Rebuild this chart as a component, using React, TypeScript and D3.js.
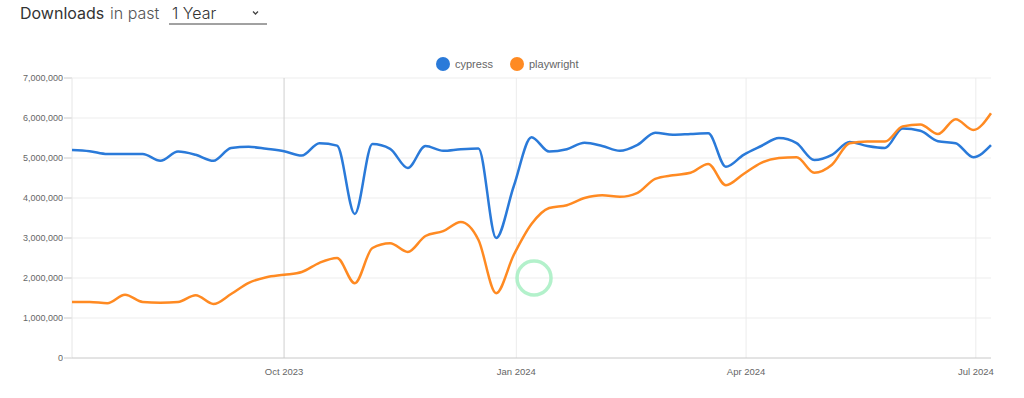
import { scaleTime, scaleLinear, line, curveMonotoneX, timeWeek, format } from "d3";

// weekly downloads, millions — first week starts 2023-07-09
const START = new Date(2023, 6, 9);
const cypress = [
    5.2, 5.17, 5.1, 5.1, 5.1, 4.93, 5.16, 5.08, 4.93, 5.25,
    5.28, 5.23, 5.17, 5.06, 5.37, 5.31, 3.6, 5.35, 5.23, 4.75,
    5.3, 5.18, 5.22, 5.24, 3.0, 4.3, 5.52, 5.16, 5.22, 5.38,
    5.3, 5.18, 5.33, 5.63, 5.58, 5.6, 5.62, 4.78, 5.08, 5.3,
    5.5, 5.37, 4.95, 5.08, 5.4, 5.3, 5.25, 5.74, 5.68, 5.42,
    5.37, 5.02, 5.32,
];
const playwright = [
    1.4, 1.4, 1.37, 1.58, 1.4, 1.38, 1.4, 1.57, 1.35, 1.6,
    1.88, 2.02, 2.08, 2.15, 2.38, 2.5, 1.87, 2.75, 2.87, 2.65,
    3.05, 3.17, 3.4, 2.95, 1.62, 2.58, 3.35, 3.75, 3.82, 4.0,
    4.07, 4.03, 4.13, 4.48, 4.57, 4.63, 4.85, 4.32, 4.6, 4.88,
    5.0, 5.02, 4.63, 4.83, 5.37, 5.41, 5.41, 5.79, 5.84, 5.6,
    5.97, 5.7, 6.12,
];
const seriesNames = ["cypress", "playwright"];
const seriesColors = ["#2a7ad9", "#ff8a22"];
const yTicks = [0, 1e6, 2e6, 3e6, 4e6, 5e6, 6e6, 7e6];
const xTickDates = [
    new Date(2023, 9, 1),
    new Date(2024, 0, 1),
    new Date(2024, 3, 1),
    new Date(2024, 6, 1),
];
const xTickLabels = ["Oct 2023", "Jan 2024", "Apr 2024", "Jul 2024"];

const W = 1024;
const H = 398;
const left = 72;
const right = 991;
const top = 78;
const bottom = 358;

export default function App() {
    const weeks = timeWeek.range(START, new Date(2024, 6, 8));
    const x = scaleTime()
        .domain([weeks[0], weeks[weeks.length - 1]])
        .range([left, right]);
    const y = scaleLinear().domain([0, 7e6]).range([bottom, top]);
    const fmt = format(",");

    const mkLine = line<number>()
        .x((_, i) => x(weeks[i]))
        .y((d) => y(d * 1e6))
        .curve(curveMonotoneX);

    const axisFont = "'Liberation Sans', Arial, sans-serif";
    const headFont = "Inter, sans-serif";

    return (
        <div style={{ position: "absolute", left: 0, top: 0 }}>
            <svg width={W} height={H} style={{ display: "block", background: "#fff" }}>
                {/* header */}
                <text x={20} y={19} fontFamily={headFont} fontSize={16} fill="#333" fontWeight={400}>
                    Downloads
                </text>
                <text x={110} y={19} fontFamily={headFont} fontSize={16} fill="#555" fontWeight={300}>
                    in past
                </text>
                <text x={172} y={19} fontFamily={headFont} fontSize={16} fill="#333" fontWeight={300}>
                    1 Year
                </text>
                <path d="M253,11.5 l2.5,2.5 l2.5,-2.5" fill="none" stroke="#444" strokeWidth={1.3} />
                <line x1={169} x2={267} y1={24} y2={24} stroke="#444" strokeWidth={1} />

                {/* legend */}
                {seriesNames.map((name, i) => {
                    const cx = i === 0 ? 443 : 517;
                    return (
                        <g key={name}>
                            <circle cx={cx} cy={64} r={7} fill={seriesColors[i]} />
                            <text x={cx + 12} y={68} fontFamily={axisFont} fontSize={11} fill="#666">
                                {name}
                            </text>
                        </g>
                    );
                })}

                {/* grid */}
                {yTicks.map((t) => (
                    <g key={t}>
                        {t > 0 && (
                            <line x1={left} x2={right} y1={y(t)} y2={y(t)} stroke="#ededed" />
                        )}
                        <line x1={left - 8} x2={left} y1={y(t)} y2={y(t)} stroke="#ccc" />
                        <text
                            x={left - 9}
                            y={y(t) + 3.2}
                            textAnchor="end"
                            fontFamily={axisFont}
                            fontSize={9}
                            fill="#666"
                        >
                            {fmt(t)}
                        </text>
                    </g>
                ))}
                <line x1={left} x2={left} y1={top} y2={bottom} stroke="#e6e6e6" />
                {xTickDates.map((d, i) => (
                    <g key={xTickLabels[i]}>
                        <line
                            x1={x(d)}
                            x2={x(d)}
                            y1={top}
                            y2={bottom}
                            stroke={i === 0 ? "#cfcfcf" : "#ececec"}
                        />
                        <text
                            x={x(d)}
                            y={375}
                            textAnchor="middle"
                            fontFamily={axisFont}
                            fontSize={9.5}
                            fill="#666"
                        >
                            {xTickLabels[i]}
                        </text>
                    </g>
                ))}
                <line x1={left} x2={right} y1={bottom} y2={bottom} stroke="#c8c8c8" />

                {/* lines */}
                <path d={mkLine(cypress) ?? ""} fill="none" stroke={seriesColors[0]} strokeWidth={2.5} />
                <path d={mkLine(playwright) ?? ""} fill="none" stroke={seriesColors[1]} strokeWidth={2.5} />

                {/* cursor highlight */}
                <circle
                    cx={x(new Date(2024, 0, 8))}
                    cy={y(2e6)}
                    r={17}
                    fill="none"
                    stroke="#a6efc2"
                    strokeWidth={3.5}
                    opacity={0.85}
                />
            </svg>
        </div>
    );
}
